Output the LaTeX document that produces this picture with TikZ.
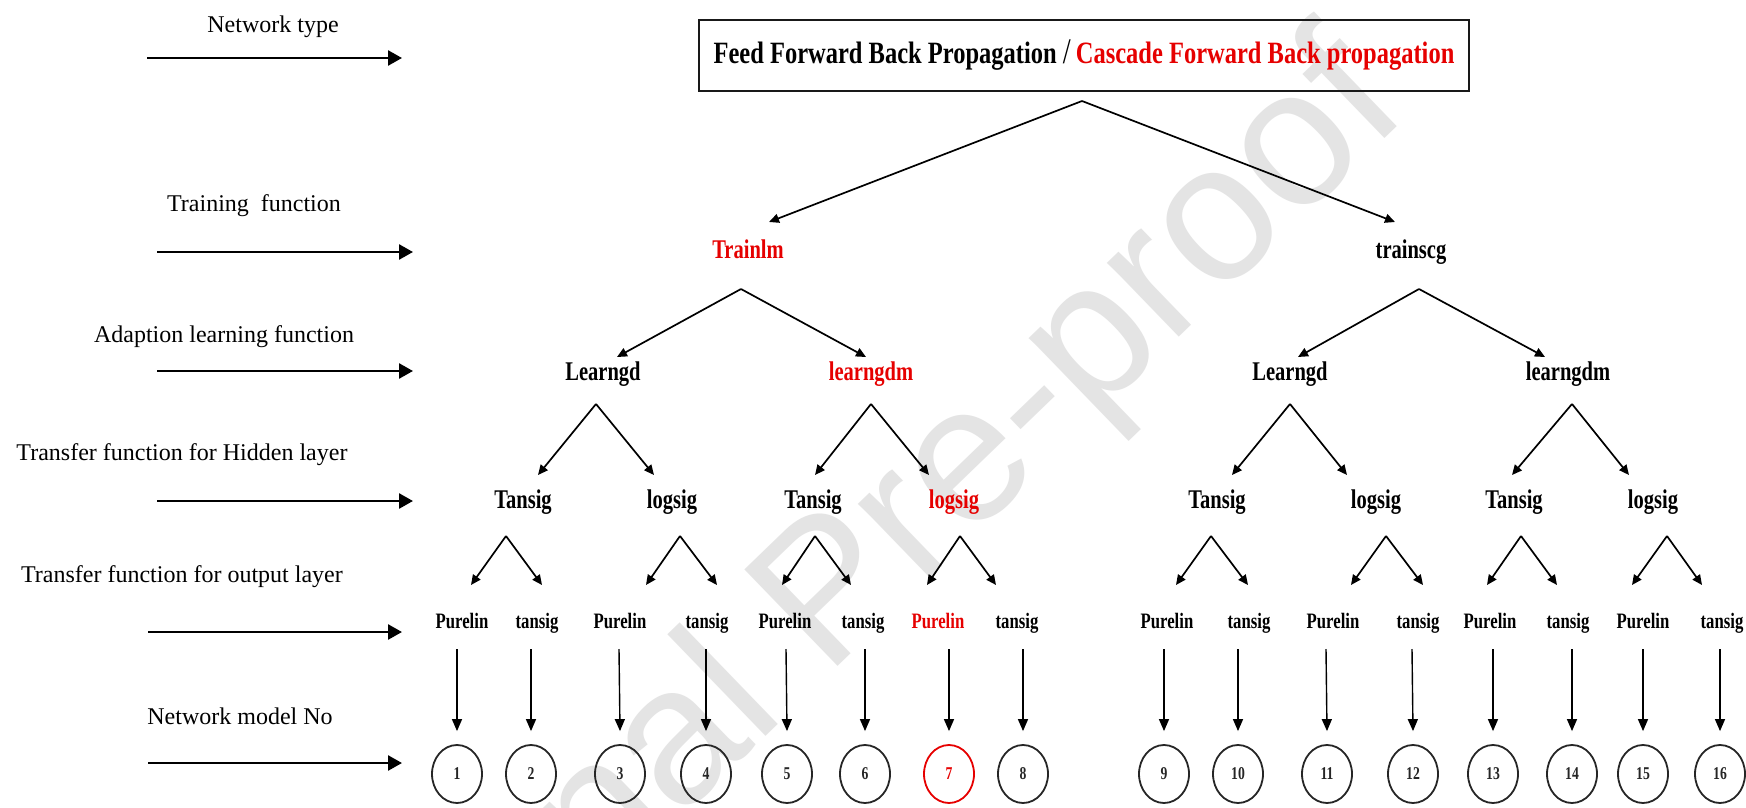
\documentclass[tikz,border=0pt]{standalone}
\usepackage{fontspec}
\setmainfont{Liberation Serif}
\newfontfamily\cbf[FakeStretch=0.76]{Liberation Serif}
\newfontfamily\boxf[FakeStretch=0.79]{Liberation Serif}
\newfontfamily\wmf{Liberation Sans}
\usetikzlibrary{arrows.meta,shapes.geometric}
\definecolor{myred}{RGB}{230,0,0}
\definecolor{wm}{RGB}{228,228,228}
\begin{document}
\begin{tikzpicture}[x=1pt,y=-1pt,
  lbl/.style={font=\fontsize{24}{28}\selectfont, inner sep=0pt, text height=17pt, text depth=5pt},
  tl/.style={font=\cbf\bfseries\fontsize{27}{30}\selectfont, inner sep=0pt, text height=19pt, text depth=6pt},
  ol/.style={font=\cbf\bfseries\fontsize{22}{26}\selectfont, inner sep=0pt, text height=15pt, text depth=5pt},
  numc/.style={ellipse, draw=black!85, line width=1.8pt, minimum width=50pt, minimum height=58pt, inner sep=0pt, font=\cbf\bfseries\fontsize{18}{20}\selectfont},
  larr/.style={line width=2.6pt, -{Triangle[length=14pt,width=15pt]}},
  tarr/.style={line width=1.7pt, -{Triangle[length=10pt,width=9pt]}},
  varr/.style={line width=1.4pt, -{Triangle[length=12pt,width=10pt]}}
]
\useasboundingbox (0,0) rectangle (1746,808);
\clip (0,0) rectangle (1746,808);
\fill[white] (0,0) rectangle (1746,808);
% watermark
\node[font=\wmf\fontsize{195}{195}\selectfont, text=wm, rotate=44, inner sep=0pt] (wmark) at (835,600) {Journal Pre-proof};

% left labels and arrows
\node[lbl] (t1) at (273,27) {Network type};
\node[lbl] (t2) at (254,205) {Training\ \ function};
\node[lbl] (t3) at (224,336) {Adaption learning function};
\node[lbl] (t4) at (182,454) {Transfer function for Hidden layer};
\node[lbl] (t5) at (182,576) {Transfer function for output layer};
\node[lbl] (t6) at (240,718) {Network model No};
\coordinate (s1) at (147,58);  \coordinate (e1) at (402,58);
\coordinate (s2) at (157,252); \coordinate (e2) at (413,252);
\coordinate (s3) at (157,371); \coordinate (e3) at (413,371);
\coordinate (s4) at (157,501); \coordinate (e4) at (413,501);
\coordinate (s5) at (148,632); \coordinate (e5) at (402,632);
\coordinate (s6) at (148,763); \coordinate (e6) at (402,763);
\foreach \k in {1,...,6} \draw[larr] (s\k) -- (e\k);

% top box
\node[draw=black!90, line width=2pt, minimum width=770pt, minimum height=71pt, inner sep=0pt] (box) at (1084,55.5)
  {\boxf\bfseries\fontsize{31}{34}\selectfont Feed Forward Back Propagation {\mdseries\fontsize{36}{36}\selectfont /}\,\textcolor{myred}{Cascade Forward Back propagation}};

% level 2
\node[tl, text=myred] (trainlm) at (748,252) {Trainlm};
\node[tl] (trainscg) at (1411,252) {trainscg};
% level 3
\node[tl] (lgd1) at (603,374) {Learngd};
\node[tl, text=myred] (lgdm1) at (871,374) {learngdm};
\node[tl] (lgd2) at (1290,374) {Learngd};
\node[tl] (lgdm2) at (1568,374) {learngdm};
% level 4
\node[tl] (h1) at (523,502) {Tansig};
\node[tl] (h2) at (672,502) {logsig};
\node[tl] (h3) at (813,502) {Tansig};
\node[tl, text=myred] (h4) at (954,502) {logsig};
\node[tl] (h5) at (1217,502) {Tansig};
\node[tl] (h6) at (1376,502) {logsig};
\node[tl] (h7) at (1514,502) {Tansig};
\node[tl] (h8) at (1653,502) {logsig};
% level 5
\foreach \i/\x/\t/\c in {1/462/Purelin/black, 2/537/tansig/black, 3/620/Purelin/black, 4/707/tansig/black,
  5/785/Purelin/black, 6/863/tansig/black, 7/938/Purelin/myred, 8/1017/tansig/black,
  9/1167/Purelin/black, 10/1249/tansig/black, 11/1333/Purelin/black, 12/1418/tansig/black,
  13/1490/Purelin/black, 14/1568/tansig/black, 15/1643/Purelin/black, 16/1722/tansig/black}
  \node[ol, text=\c] (o\i) at (\x,623) {\t};
% model circles
\foreach \i/\x/\c in {1/457/black!85, 2/531/black!85, 3/620/black!85, 4/706/black!85, 5/787/black!85, 6/865/black!85,
  7/949/myred, 8/1023/black!85, 9/1164/black!85, 10/1238/black!85, 11/1327/black!85, 12/1413/black!85,
  13/1493/black!85, 14/1572/black!85, 15/1643/black!85, 16/1720/black!85}
  \node[numc, draw=\c, text=\c] (c\i) at (\x,774) {\i};

% connectors
\draw[tarr] ([shift={(-2,9)}]box.south) -- ([shift={(21,-30)}]trainlm.center);
\draw[tarr] ([shift={(-2,9)}]box.south) -- ([shift={(-16,-30)}]trainscg.center);
\draw[tarr] ([shift={(-7,37)}]trainlm.center) -- ([shift={(14,-17)}]lgd1.center);
\draw[tarr] ([shift={(-7,37)}]trainlm.center) -- ([shift={(-5,-17)}]lgdm1.center);
\draw[tarr] ([shift={(8,37)}]trainscg.center) -- ([shift={(8,-17)}]lgd2.center);
\draw[tarr] ([shift={(8,37)}]trainscg.center) -- ([shift={(-23,-17)}]lgdm2.center);
\draw[tarr] ([shift={(-7,30)}]lgd1.center) -- ([shift={(15,-27)}]h1.center);
\draw[tarr] ([shift={(-7,30)}]lgd1.center) -- ([shift={(-18,-27)}]h2.center);
\draw[tarr] ([shift={(0,30)}]lgdm1.center) -- ([shift={(2,-27)}]h3.center);
\draw[tarr] ([shift={(0,30)}]lgdm1.center) -- ([shift={(-25,-27)}]h4.center);
\draw[tarr] ([shift={(0,30)}]lgd2.center) -- ([shift={(15,-27)}]h5.center);
\draw[tarr] ([shift={(0,30)}]lgd2.center) -- ([shift={(-29,-27)}]h6.center);
\draw[tarr] ([shift={(4,30)}]lgdm2.center) -- ([shift={(-2,-27)}]h7.center);
\draw[tarr] ([shift={(4,30)}]lgdm2.center) -- ([shift={(-24,-27)}]h8.center);
\foreach \h/\ax/\o/\tx in {1/-17/1/9, 1/-17/2/5, 2/8/3/26, 2/8/4/10, 3/2/5/-3, 3/2/6/-12, 4/6/7/-11, 4/6/8/-21,
  5/-6/9/9, 5/-6/10/-1, 6/10/11/18, 6/10/12/5, 7/7/13/-3, 7/7/14/-11, 8/14/15/-11, 8/14/16/-20}
  \draw[tarr] ([shift={(\ax,34)}]h\h.center) -- ([shift={(\tx,-38)}]o\o.center);
\foreach \i/\dx in {1/-5, 2/-6, 3/-1, 4/-1, 5/1, 6/2, 7/11, 8/6, 9/-3, 10/-11, 11/-7, 12/-6, 13/3, 14/4, 15/0, 16/-2}
  \draw[varr] ([shift={(\dx,26)}]o\i.center) -- ([yshift=13pt]c\i.north);
\end{tikzpicture}
\end{document}
